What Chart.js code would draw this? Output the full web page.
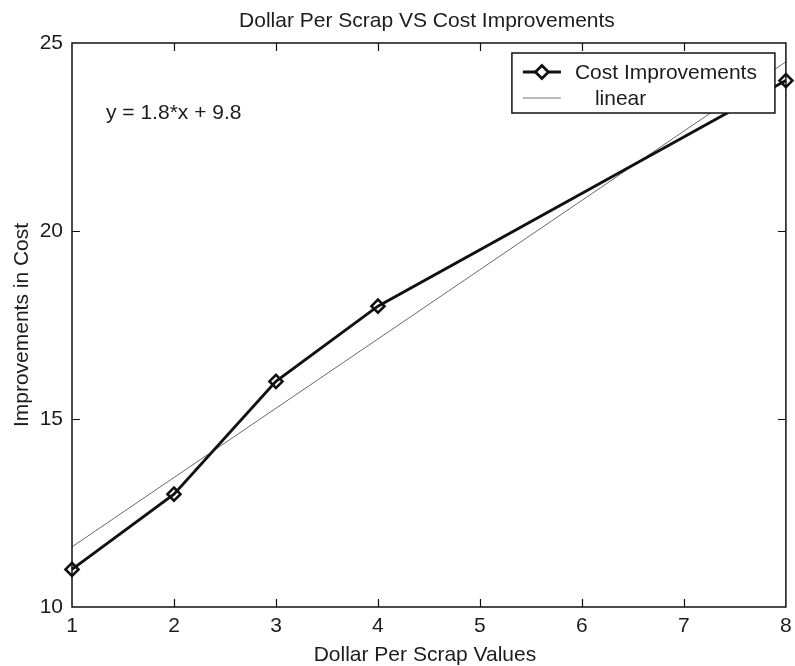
<!DOCTYPE html>
<html>
<head>
<meta charset="utf-8">
<title>Dollar Per Scrap VS Cost Improvements</title>
<script src="https://cdn.jsdelivr.net/npm/chart.js@4.4.1/dist/chart.umd.min.js"></script>
<style>
    html, body { margin: 0; padding: 0; background: #ffffff; }
    #wrap { width: 795px; height: 666px; }
</style>
</head>
<body>
<div id="wrap"><canvas id="chart" width="795" height="666"></canvas></div>
<script>
// Data
const xValues = [1, 2, 3, 4, 8];
const costImprovements = [11, 13, 16, 18, 24];
// linear fit end points (y = 1.8*x + 9.8, unrounded coefficients)
const linearX = [1, 8];
const linearY = [11.6, 24.5];
const xTicks = [1, 2, 3, 4, 5, 6, 7, 8];
const yTicks = [10, 15, 20, 25];

const FONT = '"Liberation Sans", Arial, Helvetica, sans-serif';
const TEXT = '#1c1c1c';

function diamond(ctx, x, y, r) {
    ctx.beginPath();
    ctx.moveTo(x, y - r);
    ctx.lineTo(x + r, y);
    ctx.lineTo(x, y + r);
    ctx.lineTo(x - r, y);
    ctx.closePath();
}

// MATLAB style box, inward ticks, title, labels, text and legend
const matlabFrame = {
    id: 'matlabFrame',
    afterDatasetsDraw(chart) {
        const ctx = chart.ctx;
        const a = chart.chartArea;
        const xs = chart.scales.x;
        const ys = chart.scales.y;
        ctx.save();

        // box
        ctx.strokeStyle = '#111';
        ctx.lineWidth = 1.5;
        ctx.strokeRect(a.left, a.top, a.right - a.left, a.bottom - a.top);

        // inward ticks
        ctx.lineWidth = 1.2;
        ctx.beginPath();
        xTicks.slice(1, -1).forEach(v => {
            const px = Math.round(xs.getPixelForValue(v)) + 0.5;
            ctx.moveTo(px, a.bottom); ctx.lineTo(px, a.bottom - 8);
            ctx.moveTo(px, a.top); ctx.lineTo(px, a.top + 8);
        });
        yTicks.slice(1, -1).forEach(v => {
            const py = Math.round(ys.getPixelForValue(v)) + 0.5;
            ctx.moveTo(a.left, py); ctx.lineTo(a.left + 8, py);
            ctx.moveTo(a.right, py); ctx.lineTo(a.right - 8, py);
        });
        ctx.stroke();

        ctx.fillStyle = TEXT;
        ctx.font = '21px ' + FONT;

        // title
        ctx.textAlign = 'center';
        ctx.textBaseline = 'alphabetic';
        ctx.fillText('Dollar Per Scrap VS Cost Improvements', (a.left + a.right) / 2 - 2, 27);

        // x axis title
        ctx.fillText('Dollar Per Scrap Values', (a.left + a.right) / 2 - 4, 661);

        // y axis title
        ctx.save();
        ctx.translate(28, (a.top + a.bottom) / 2);
        ctx.rotate(-Math.PI / 2);
        ctx.fillText('Improvements in Cost', 0, 0);
        ctx.restore();

        // fit equation
        ctx.textAlign = 'left';
        ctx.fillText('y = 1.8*x + 9.8', a.left + 34, 119);

        // legend
        const lx = a.right - 274, ly = a.top + 10, lw = 263, lh = 60;
        ctx.fillStyle = '#fff';
        ctx.fillRect(lx, ly, lw, lh);
        ctx.strokeStyle = '#111';
        ctx.lineWidth = 1.5;
        ctx.strokeRect(lx, ly, lw, lh);

        const y1 = ly + 19, y2 = ly + 45;
        ctx.lineWidth = 2.8;
        ctx.beginPath();
        ctx.moveTo(lx + 11, y1); ctx.lineTo(lx + 49, y1);
        ctx.stroke();
        diamond(ctx, lx + 30, y1, 6.5);
        ctx.fillStyle = '#fff';
        ctx.fill();
        ctx.stroke();

        ctx.strokeStyle = '#777';
        ctx.lineWidth = 1;
        ctx.beginPath();
        ctx.moveTo(lx + 11, y2); ctx.lineTo(lx + 49, y2);
        ctx.stroke();

        ctx.fillStyle = TEXT;
        ctx.textBaseline = 'middle';
        ctx.fillText('Cost Improvements', lx + 63, y1 + 1);
        ctx.fillText('linear', lx + 83, y2 + 1);

        ctx.restore();
    }
};

const ctx = document.getElementById('chart').getContext('2d');
new Chart(ctx, {
    type: 'line',
    data: {
        datasets: [
            {
                label: 'Cost Improvements',
                data: xValues.map((x, i) => ({ x: x, y: costImprovements[i] })),
                borderColor: '#111',
                borderWidth: 2.9,
                pointStyle: 'rectRot',
                pointRadius: 6.5,
                pointBorderWidth: 2.6,
                pointBorderColor: '#111',
                pointBackgroundColor: 'rgba(255,255,255,0)',
                tension: 0,
                clip: false,
                order: 1
            },
            {
                label: 'linear',
                data: linearX.map((x, i) => ({ x: x, y: linearY[i] })),
                borderColor: '#6a6a6a',
                borderWidth: 1,
                pointRadius: 0,
                tension: 0,
                order: 2
            }
        ]
    },
    options: {
        responsive: false,
        animation: false,
        layout: { padding: { top: 43, right: 7, left: 0, bottom: 0 } },
        plugins: {
            legend: { display: false },
            title: { display: false },
            tooltip: { enabled: false }
        },
        scales: {
            x: {
                type: 'linear',
                min: 1,
                max: 8,
                afterBuildTicks: scale => { scale.ticks = xTicks.map(v => ({ value: v })); },
                afterFit: scale => {
                    scale.height = 59;
                    // let the last label hang into the right margin
                    scale.paddingLeft = 0;
                    scale.paddingRight = 0;
                },
                grid: { display: false, drawTicks: false },
                border: { display: false },
                ticks: {
                    color: TEXT,
                    font: { family: FONT, size: 21 },
                    padding: 7,
                    maxRotation: 0,
                    autoSkip: false
                }
            },
            y: {
                type: 'linear',
                min: 10,
                max: 25,
                afterBuildTicks: scale => { scale.ticks = yTicks.map(v => ({ value: v })); },
                afterFit: scale => {
                    scale.width = 72;
                    scale.paddingTop = 0;
                    scale.paddingBottom = 0;
                },
                grid: { display: false, drawTicks: false },
                border: { display: false },
                ticks: {
                    color: TEXT,
                    font: { family: FONT, size: 21 },
                    padding: 9
                }
            }
        }
    },
    plugins: [matlabFrame]
});
</script>
</body>
</html>
